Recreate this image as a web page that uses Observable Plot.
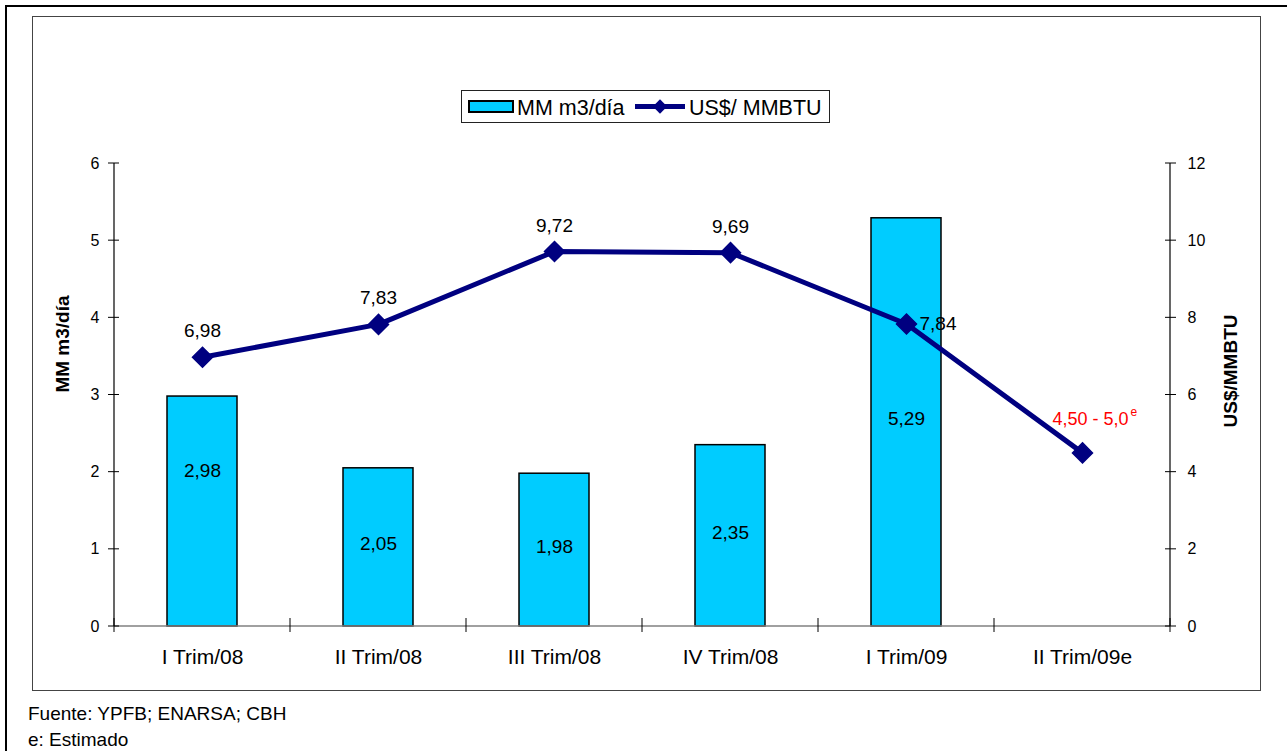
<!DOCTYPE html>
<html>
<head>
<meta charset="utf-8">
<script src="https://cdn.jsdelivr.net/npm/d3@7"></script>
<script src="https://cdn.jsdelivr.net/npm/@observablehq/plot@0.6"></script>
<style>
  body { margin: 0; background: #fff; font-family: Arial, "Liberation Sans", sans-serif; }
  #page { position: relative; width: 1287px; height: 751px; overflow: hidden; }
  #outer { position: absolute; left: 5px; top: 5px; width: 1300px; height: 800px; border: 2px solid #000; box-sizing: border-box; }
  #inner { position: absolute; left: 32px; top: 16px; width: 1229px; height: 675px; border: 1.5px solid #444; box-sizing: border-box; }
  #chart { position: absolute; left: 32px; top: 17px; }
  #legend { position: absolute; left: 461px; top: 90px; width: 369px; height: 33px; border: 1.5px solid #222; box-sizing: border-box; background: #fff; }
  .foot { position: absolute; left: 28px; font-size: 19px; line-height: 23px; color: #000; white-space: nowrap; }
</style>
</head>
<body>
<div id="page">
  <div id="outer"></div>
  <div id="inner"></div>
  <div id="chart"></div>
  <div id="legend"></div>
  <div class="foot" style="top:702px">Fuente: YPFB; ENARSA; CBH</div>
  <div class="foot" style="top:728px">e: Estimado</div>
</div>
<script>
// ---- data ----
const quarters = ["I Trim/08", "II Trim/08", "III Trim/08", "IV Trim/08", "I Trim/09", "II Trim/09e"];
const volume = [2.98, 2.05, 1.98, 2.35, 5.29, null];          // MM m3/día
const price = [6.98, 7.83, 9.72, 9.69, 7.84, 4.5];             // US$/MMBTU
const volumeLabels = ["2,98", "2,05", "1,98", "2,35", "5,29", ""];
const priceLabels = ["6,98", "7,83", "9,72", "9,69", "7,84", "4,50 - 5,0"];
const yTicks = [0, 1, 2, 3, 4, 5, 6];
const y2Ticks = [0, 2, 4, 6, 8, 10, 12];
const seriesNames = ["MM m3/día", "US$/ MMBTU"];
const axisTitles = ["MM m3/día", "US$/MMBTU"];

const barColor = "#00CCFF";
const lineColor = "#000080";
const ratio = y2Ticks[y2Ticks.length - 1] / yTicks[yTicks.length - 1];

const bars = quarters.map((q, i) => ({q, v: volume[i], label: volumeLabels[i]})).filter(d => d.v != null);
const pts = quarters.map((q, i) => ({q, p: price[i], label: priceLabels[i], i}));

// cross ticks + axis lines drawn from Plot's scales
function axesMark(index, scales, values, dimensions) {
  const x = scales.x, y = scales.y;
  const bw = x.bandwidth ? x.bandwidth() : 0;
  const step = x(quarters[1]) - x(quarters[0]);
  const yb = y(0), yt = y(yTicks[yTicks.length - 1]);
  const xl = x(quarters[0]) + bw / 2 - step / 2;
  const xr = x(quarters[quarters.length - 1]) + bw / 2 + step / 2;
  const g = d3.create("svg:g").attr("fill", "none");
  g.append("line").attr("x1", xl).attr("x2", xr).attr("y1", yb).attr("y2", yb).attr("stroke", "#808080").attr("stroke-width", 1.5);
  g.append("line").attr("x1", xl).attr("x2", xl).attr("y1", yt).attr("y2", yb).attr("stroke", "#000").attr("stroke-width", 1.2);
  g.append("line").attr("x1", xr).attr("x2", xr).attr("y1", yt).attr("y2", yb).attr("stroke", "#000").attr("stroke-width", 1.2);
  for (const t of yTicks) {
    g.append("line").attr("x1", xl - 6).attr("x2", xl + 5).attr("y1", y(t)).attr("y2", y(t)).attr("stroke", "#000");
  }
  for (const t of y2Ticks) {
    g.append("line").attr("x1", xr - 5).attr("x2", xr + 6).attr("y1", y(t / ratio)).attr("y2", y(t / ratio)).attr("stroke", "#000");
  }
  for (let i = 0; i <= quarters.length; i++) {
    const bx = xl + i * step;
    g.append("line").attr("x1", bx).attr("x2", bx).attr("y1", yb - 8).attr("y2", yb + 6).attr("stroke", "#000");
  }
  return g.node();
}

const chart = Plot.plot({
  width: 1228,
  height: 673,
  marginLeft: 81,
  marginRight: 88,
  marginTop: 146,
  marginBottom: 64,
  style: {fontFamily: "Arial, 'Liberation Sans', sans-serif", color: "#000", background: "transparent", overflow: "visible"},
  x: {type: "band", domain: quarters, paddingInner: 0.6, paddingOuter: 0.3},
  y: {domain: [0, yTicks[yTicks.length - 1]]},
  marks: [
    Plot.barY(bars, {x: "q", y: "v", fill: barColor, stroke: "#000", strokeWidth: 1.5}),
    axesMark,
    Plot.axisX({tickSize: 0, tickPadding: 23, fontSize: 21, label: null}),
    Plot.axisY({anchor: "left", ticks: yTicks, tickFormat: d => String(d), tickSize: 0, tickPadding: 14, fontSize: 16, label: null}),
    Plot.axisY({anchor: "right", ticks: y2Ticks.map(t => t / ratio), tickFormat: d => String(Math.round(d * ratio)), tickSize: 0, tickPadding: 15, fontSize: 16, label: null}),
    Plot.text([axisTitles[0]], {frameAnchor: "left", text: d => d, rotate: -90, textAnchor: "middle", dx: -51, dy: -51, fontSize: 19, fontWeight: "bold"}),
    Plot.text([axisTitles[1]], {frameAnchor: "right", text: d => d, rotate: -90, textAnchor: "middle", dx: 58, dy: -24, fontSize: 19, fontWeight: "bold"}),
    Plot.text(bars.filter((d, i) => i === 0), {x: "q", y: d => d.v / 2, text: "label", fontSize: 19, dy: -41}),
    Plot.text(bars.filter((d, i) => i > 0), {x: "q", y: d => d.v / 2, text: "label", fontSize: 19, dy: -3}),
    Plot.line(pts, {x: "q", y: d => d.p / ratio, stroke: lineColor, strokeWidth: 5}),
    Plot.dot(pts, {x: "q", y: d => d.p / ratio, symbol: "diamond2", r: 9, fill: lineColor, stroke: lineColor}),
    Plot.text(pts.filter(d => d.i <= 3), {x: "q", y: d => d.p / ratio, text: "label", fontSize: 19, dy: -26}),
    Plot.text(pts.filter(d => d.i === 4), {x: "q", y: d => d.p / ratio, text: "label", fontSize: 19, dx: 13, textAnchor: "start"}),
    Plot.text(pts.filter(d => d.i === 5), {x: "q", y: d => d.p / ratio, text: "label", fontSize: 18, dx: 46, dy: -34, textAnchor: "end", fill: "#FF0000"}),
    Plot.text(pts.filter(d => d.i === 5), {x: "q", y: d => d.p / ratio, text: () => "e", fontSize: 12, dx: 48, dy: -41, textAnchor: "start", fill: "#FF0000"})
  ]
});
document.getElementById("chart").appendChild(chart);

// legend
const leg = d3.select("#legend").append("svg").attr("width", 366).attr("height", 30)
  .style("font-family", "Arial, 'Liberation Sans', sans-serif");
leg.append("rect").attr("x", 7).attr("y", 10).attr("width", 44).attr("height", 11).attr("fill", barColor).attr("stroke", "#000").attr("stroke-width", 2);
leg.append("text").attr("x", 55).attr("y", 23.5).attr("font-size", 21.5).text(seriesNames[0]);
leg.append("line").attr("x1", 173).attr("x2", 223).attr("y1", 15.5).attr("y2", 15.5).attr("stroke", lineColor).attr("stroke-width", 5);
leg.append("path").attr("d", d3.symbol(d3.symbolDiamond2, 130)()).attr("transform", "translate(198,15.5)").attr("fill", lineColor);
leg.append("text").attr("x", 227).attr("y", 23.5).attr("font-size", 21.5).text(seriesNames[1]);
</script>
</body>
</html>
